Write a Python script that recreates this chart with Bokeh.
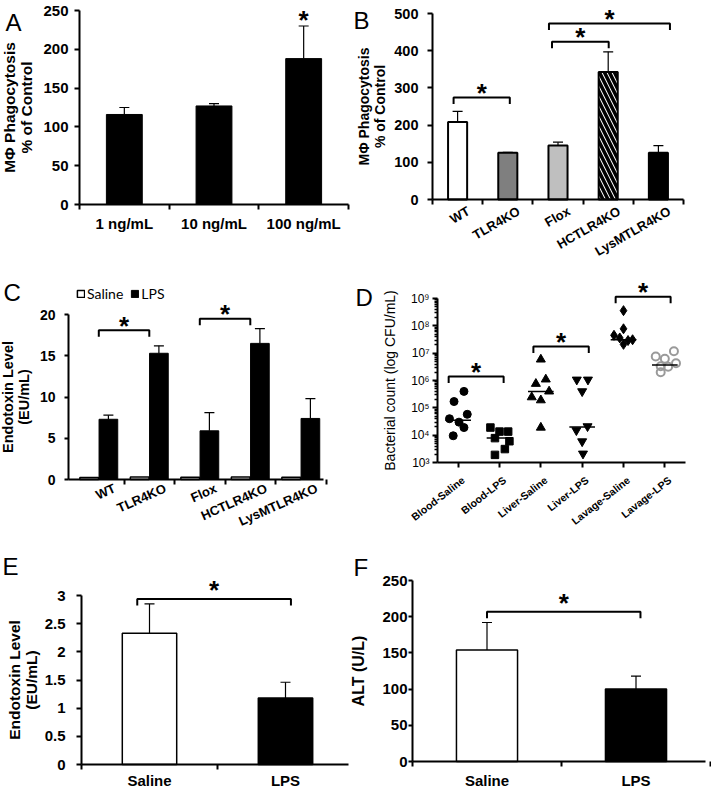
import math
from bokeh.plotting import figure
from bokeh.layouts import row, column
from bokeh.models import (ColumnDataSource, Whisker, TeeHead, FixedTicker, Range1d,
                          Label, LabelSet, Legend, LegendItem)
from bokeh.core.properties import value
from bokeh.embed import file_html
from bokeh.resources import INLINE

FONT = "Liberation Sans"

# ---------------- data ----------------
a_categories = ["1 ng/mL", "10 ng/mL", "100 ng/mL"]
a_means = [116, 127, 188]
a_upper = [125, 130, 230]
a_y_ticks = [0, 50, 100, 150, 200, 250]
a_star_idx = [2]

b_categories = ["WT", "TLR4KO", "Flox", "HCTLR4KO", "LysMTLR4KO"]
b_means = [208, 126, 145, 343, 126]
b_upper = [237, 127, 154, 397, 145]
b_y_ticks = [0, 100, 200, 300, 400, 500]
b_bracket_from = [0.42, 2.38, 2.32]
b_bracket_to = [1.54, 3.51, 4.73]
b_bracket_height = [274, 424, 473]

c_categories = ["WT", "TLR4KO", "Flox", "HCTLR4KO", "LysMTLR4KO"]
c_saline = [0.25, 0.3, 0.28, 0.3, 0.28]
c_lps = [7.3, 15.3, 5.9, 16.5, 7.4]
c_lps_upper = [7.8, 16.2, 8.1, 18.3, 9.8]
c_y_ticks = [0, 5, 10, 15, 20]
c_bracket_from = [0.5, 2.5]
c_bracket_to = [1.5, 3.5]
c_bracket_height = [18.1, 19.5]

d_categories = ["Blood-Saline", "Blood-LPS", "Liver-Saline", "Liver-LPS",
                "Lavage-Saline", "Lavage-LPS"]
d_values = [
    [4.0e5, 1.7e5, 5.8e4, 4.0e4, 3.0e4, 1.9e4, 9.5e3],
    [1.9e4, 1.35e4, 1.35e4, 7.8e3, 6.0e3, 3.1e3, 1.9e3],
    [5.9e6, 1.1e6, 7.6e5, 4.0e5, 2.45e5, 1.9e5, 1.9e4],
    [1.07e6, 1.07e6, 4.0e5, 2.1e4, 1.5e4, 5.9e3, 2.1e3],
    [3.6e8, 7.8e7, 4.5e7, 3.6e7, 3.1e7, 2.9e7, 2.1e7],
    [1.17e7, 7.6e6, 6.2e6, 4.3e6, 3.3e6, 3.2e6, 2.0e6],
]
d_jitter = [
    [0.14, -0.10, 0.22, -0.21, 0.02, 0.14, -0.12],
    [-0.22, 0.0, 0.21, -0.11, 0.24, 0.13, -0.11],
    [0.0, 0.12, -0.12, 0.20, -0.22, 0.0, 0.0],
    [-0.13, 0.14, 0.0, 0.13, -0.14, 0.0, 0.02],
    [0.0, 0.0, -0.23, -0.09, 0.22, 0.11, 0.0],
    [0.22, -0.22, 0.0, 0.27, -0.10, 0.08, -0.10],
]
d_medians = [3.5e4, 7.8e3, 4.0e5, 2.0e4, 3.1e7, 3.7e6]
d_y_ticks = [1e3, 1e4, 1e5, 1e6, 1e7, 1e8, 1e9]
d_y_labels = ["10³", "10⁴", "10⁵", "10⁶", "10⁷", "10⁸", "10⁹"]
d_bracket_from = [0.27, 2.32, 4.31]
d_bracket_to = [1.60, 3.66, 5.64]
d_bracket_height = [1.4e6, 1.74e7, 1.17e9]

e_categories = ["Saline", "LPS"]
e_means = [2.33, 1.18]
e_upper = [2.85, 1.46]
e_y_ticks = [0, 0.5, 1, 1.5, 2, 2.5, 3]
e_y_labels = ["0", "0.5", "1", "1.5", "2", "2.5", "3"]
e_bracket_from = [0.41]
e_bracket_to = [1.54]
e_bracket_height = [2.94]

f_categories = ["Saline", "LPS"]
f_means = [154, 100]
f_upper = [192, 118]
f_y_ticks = [0, 50, 100, 150, 200, 250]
f_bracket_from = [0.50]
f_bracket_to = [1.53]
f_bracket_height = [207]

# ---------------- styles ----------------
B_FILLS = ["white", "#7f7f7f", "#bfbfbf", "white", "black"]
B_HATCH = [" ", " ", " ", "\\", " "]
D_MARKERS = ["circle", "square", "triangle", "inverted_triangle", "diamond", "circle"]
D_SIZES = [8, 7.5, 9, 9, 10, 8]
D_FILLS = ["black", "black", "black", "black", "black", None]
D_LINES = ["black", "black", "black", "black", "black", "#9a9a9a"]
D_LW = [1, 1, 1, 1, 1, 2]


# ---------------- helpers ----------------
def geo(W, H, X0, Y0, ppux, ppuy, x_end, y_top, xa=0.0, ya=0.0, log=False):
    """Figure of W x H px, y-axis at px X0 (data xa), x-axis at px Y0 from top (data ya)."""
    xr = (xa - X0 / ppux, xa + (W - X0) / ppux)
    if log:
        la = math.log10(ya)
        yr = (10 ** (la - (H - Y0) / ppuy), 10 ** (la + Y0 / ppuy))
    else:
        yr = (ya - (H - Y0) / ppuy, ya + Y0 / ppuy)
    return dict(W=W, H=H, X0=X0, Y0=Y0, ppux=ppux, ppuy=ppuy, xa=xa, ya=ya,
                log=log, xr=xr, yr=yr, x_end=x_end, y_top=y_top)


def shift(g, x, y, dx, dy):
    xn = x + dx / g["ppux"]
    if g["log"]:
        yn = 10 ** (math.log10(y) + dy / g["ppuy"])
    else:
        yn = y + dy / g["ppuy"]
    return xn, yn


def to_data(g, lx, ly):
    return shift(g, g["xa"], g["ya"], lx - g["X0"], g["Y0"] - ly)


def make_fig(g):
    p = figure(width=g["W"], height=g["H"],
               x_range=Range1d(*g["xr"]), y_range=Range1d(*g["yr"]),
               y_axis_type="log" if g["log"] else "linear",
               output_backend="svg", toolbar_location=None,
               min_border_left=0, min_border_right=0,
               min_border_top=0, min_border_bottom=0)
    try:
        p.frame_align = False
    except Exception:
        pass
    p.xgrid.visible = False
    p.ygrid.visible = False
    p.outline_line_color = None
    p.background_fill_color = "white"
    p.border_fill_color = "white"
    p.xaxis[0].fixed_location = g["ya"]
    p.yaxis[0].fixed_location = g["xa"]
    p.xaxis[0].bounds = (g["xa"], g["x_end"])
    p.yaxis[0].bounds = (g["ya"], g["y_top"])
    return p


def style_axis(ax, size, bold, standoff, tick_out=5):
    ax.axis_line_color = "black"
    ax.axis_line_width = 2
    ax.major_tick_line_color = "black"
    ax.major_tick_line_width = 2
    ax.major_tick_out = tick_out
    ax.major_tick_in = 0
    ax.minor_tick_line_color = "black"
    ax.minor_tick_line_width = 2
    ax.minor_tick_out = tick_out
    ax.minor_tick_in = 0
    ax.major_label_text_font = FONT
    ax.major_label_text_font_size = size
    ax.major_label_text_font_style = "bold" if bold else "normal"
    ax.major_label_text_color = "black"
    ax.major_label_standoff = standoff


def set_title(ax, text, size, bold, standoff, line_height=1.0):
    ax.axis_label = text
    ax.axis_label_text_font = FONT
    ax.axis_label_text_font_size = size
    ax.axis_label_text_font_style = "bold" if bold else "normal"
    ax.axis_label_text_color = "black"
    ax.axis_label_standoff = standoff
    ax.axis_label_text_line_height = line_height


def add_err(p, xs, lows, highs):
    src = ColumnDataSource(dict(base=xs, lower=lows, upper=highs))
    w = Whisker(source=src, base="base", lower="lower", upper="upper",
                line_color="black", line_width=1.2,
                upper_head=TeeHead(size=10, line_color="black", line_width=1.2),
                lower_head=None)
    p.add_layout(w)


def add_stars(p, xs, ys):
    p.text(x=xs, y=ys, text=["*"] * len(xs), text_font=value(FONT),
           text_font_size="26px", text_font_style="bold", text_align="center",
           text_baseline="middle", text_color="black")


def add_brackets(p, g, x0s, x1s, hs, star_px, drop_px=6.5):
    xs, ys, sx, sy = [], [], [], []
    for a, b, h in zip(x0s, x1s, hs):
        _, hd = shift(g, a, h, 0, -drop_px)
        _, st = shift(g, a, h, 0, star_px)
        xs.append([a, a, b, b])
        ys.append([hd, h, h, hd])
        sx.append((a + b) / 2)
        sy.append(st)
    p.multi_line(xs, ys, line_color="black", line_width=2)
    add_stars(p, sx, sy)


def add_rot_labels(p, g, centers, texts, angle_deg, size, dx, dy):
    xs, ys = [], []
    for c in centers:
        x, y = shift(g, c, g["ya"], dx, -dy)
        xs.append(x)
        ys.append(y)
    src = ColumnDataSource(dict(x=xs, y=ys, t=texts))
    p.add_layout(LabelSet(x="x", y="y", text="t", source=src,
                          angle=math.radians(angle_deg), text_align="right",
                          text_baseline="middle", text_font=value(FONT),
                          text_font_size=size, text_font_style="bold",
                          text_color="black"))


def add_letter(p, g, letter, lx, ly):
    x, y = to_data(g, lx, ly)
    p.add_layout(Label(x=x, y=y, text=letter, text_font=FONT, text_font_size="24px",
                       text_align="left", text_baseline="alphabetic", text_color="black"))


# ---------------- Panel A ----------------
gA = geo(350, 260, 79, 204, 269 / 3, 194 / 250, 3, 250)
pA = make_fig(gA)
a_x = [i + 0.5 for i in range(len(a_categories))]
pA.vbar(x=a_x, top=a_means, width=0.4, fill_color="black", line_color="black")
add_err(pA, a_x, a_means, a_upper)
ax = pA.xaxis[0]
style_axis(ax, "15px", True, 5)
ax.ticker = FixedTicker(ticks=a_x, minor_ticks=list(range(len(a_categories) + 1)))
ax.major_tick_line_color = None
ax.major_label_overrides = {x: c for x, c in zip(a_x, a_categories)}
ay = pA.yaxis[0]
style_axis(ay, "15px", True, 6)
ay.ticker = FixedTicker(ticks=a_y_ticks)
set_title(ay, "MΦ Phagocytosis\n% of Control", "15.5px", True, 5)
sx, sy = [], []
for i in a_star_idx:
    sx.append(a_x[i])
    sy.append(shift(gA, a_x[i], a_upper[i], 0, 6.3)[1])
add_stars(pA, sx, sy)
add_letter(pA, gA, "A", 5, 22)

# ---------------- Panel B ----------------
gB = geo(361, 260, 82, 199, 251 / 5, 186 / 500, 5, 500)
pB = make_fig(gB)
b_x = [i + 0.5 for i in range(len(b_categories))]
srcB = ColumnDataSource(dict(x=b_x, top=b_means, color=B_FILLS, hatch=B_HATCH))
pB.vbar(x="x", top="top", width=0.38, source=srcB, fill_color="color",
        line_color="black", line_width=2, hatch_pattern="hatch",
        hatch_color="black", hatch_weight=3.5, hatch_scale=10)
add_err(pB, b_x, b_means, b_upper)
bx = pB.xaxis[0]
style_axis(bx, "13px", True, 5)
bx.ticker = FixedTicker(ticks=[], minor_ticks=list(range(len(b_categories) + 1)))
add_rot_labels(pB, gB, b_x, b_categories, 30, "13px", 11, 10.5)
by = pB.yaxis[0]
style_axis(by, "14.5px", True, 9)
by.ticker = FixedTicker(ticks=b_y_ticks)
set_title(by, "MΦ Phagocytosis\n% of Control", "14px", True, 3)
add_brackets(pB, gB, b_bracket_from, b_bracket_to, b_bracket_height, 4.5)
add_letter(pB, gB, "B", 3, 20)

# ---------------- Panel C ----------------
gC = geo(350, 270, 68, 219, 50.5, 165 / 20, 4.95, 20, xa=-0.1)
pC = make_fig(gC)
c_center = [i + 0.5 for i in range(len(c_categories))]
c_sx = [c - 0.19 for c in c_center]
c_lx = [c + 0.19 for c in c_center]
r_sal = pC.vbar(x=c_sx, top=c_saline, width=0.37, fill_color="white",
                line_color="black", line_width=1.5)
r_lps = pC.vbar(x=c_lx, top=c_lps, width=0.37, fill_color="black",
                line_color="black", line_width=1)
add_err(pC, c_lx, c_lps, c_lps_upper)
cx = pC.xaxis[0]
style_axis(cx, "13px", True, 5)
cx.ticker = FixedTicker(ticks=[], minor_ticks=list(range(1, len(c_categories) + 1)))
add_rot_labels(pC, gC, c_center, c_categories, 24, "13px", 16, 8)
cy = pC.yaxis[0]
style_axis(cy, "14px", True, 9, tick_out=4)
cy.ticker = FixedTicker(ticks=c_y_ticks)
set_title(cy, "Endotoxin Level\n(EU/mL)", "14.5px", True, 5, 1.0)
add_brackets(pC, gC, c_bracket_from, c_bracket_to, c_bracket_height, 4.5)
legC = Legend(items=[LegendItem(label="Saline", renderers=[r_sal]),
                     LegendItem(label="LPS", renderers=[r_lps])],
              location=(76, 228), orientation="horizontal", glyph_width=9,
              glyph_height=9, label_standoff=2, spacing=7, padding=0, margin=0,
              border_line_color=None, background_fill_alpha=0,
              label_text_font="Lato", label_text_font_size="14px",
              label_text_color="black")
pC.add_layout(legC)
add_letter(pC, gC, "C", 3, 32)

# ---------------- Panel D ----------------
gD = geo(361, 270, 87, 202, 248 / 6, 164 / 6, 6, 1e9, ya=1e3, log=True)
pD = make_fig(gD)
d_center = [i + 0.5 for i in range(len(d_categories))]
for i, (vals, jit) in enumerate(zip(d_values, d_jitter)):
    xs = [d_center[i] + j for j in jit]
    pD.scatter(xs, vals, marker=D_MARKERS[i], size=D_SIZES[i],
               fill_color=D_FILLS[i], line_color=D_LINES[i], line_width=D_LW[i])
pD.segment(x0=[c - 0.31 for c in d_center], x1=[c + 0.31 for c in d_center],
           y0=d_medians, y1=d_medians, line_color="black", line_width=1.5)
dx_ = pD.xaxis[0]
style_axis(dx_, "11px", True, 5)
dx_.ticker = FixedTicker(ticks=[], minor_ticks=d_center)
add_rot_labels(pD, gD, d_center, d_categories, 38, "10.5px", 5, 16)
dy_ = pD.yaxis[0]
style_axis(dy_, "12px", False, 3, tick_out=5)
dy_.minor_tick_out = 3
dy_.minor_tick_line_width = 1.5
dy_.ticker = FixedTicker(ticks=d_y_ticks,
                         minor_ticks=[m * 10 ** e for e in range(3, 9) for m in range(2, 10)])
dy_.major_label_overrides = {int(t): l for t, l in zip(d_y_ticks, d_y_labels)}
set_title(dy_, "Bacterial count (log CFU/mL)", "14px", False, 10)
add_brackets(pD, gD, d_bracket_from, d_bracket_to, d_bracket_height, 4.8)
add_letter(pD, gD, "D", 5, 37)

# ---------------- Panel E ----------------
gE = geo(350, 260, 81, 234, 136, 169 / 3, 267 / 136, 3)
pE = make_fig(gE)
e_x = [i + 0.5 for i in range(len(e_categories))]
pE.vbar(x=e_x, top=e_means, width=0.4, fill_color=["white", "black"],
        line_color="black", line_width=1.5)
add_err(pE, e_x, e_means, e_upper)
ex = pE.xaxis[0]
style_axis(ex, "15px", True, 2)
ex.ticker = FixedTicker(ticks=e_x, minor_ticks=list(range(len(e_categories) + 1)))
ex.major_tick_line_color = None
ex.major_label_overrides = {x: c for x, c in zip(e_x, e_categories)}
ey = pE.yaxis[0]
style_axis(ey, "15px", True, 11)
ey.ticker = FixedTicker(ticks=e_y_ticks)
ey.major_label_overrides = {t: l for t, l in zip(e_y_ticks, e_y_labels)}
set_title(ey, "Endotoxin Level\n(EU/mL)", "15.5px", True, 2)
add_brackets(pE, gE, e_bracket_from, e_bracket_to, e_bracket_height, 9)
add_letter(pE, gE, "E", 2, 36)

# ---------------- Panel F ----------------
gF = geo(361, 260, 62, 231, 149, 181 / 250, 293 / 149, 250)
pF = make_fig(gF)
f_x = [i + 0.5 for i in range(len(f_categories))]
pF.vbar(x=f_x, top=f_means, width=0.41, fill_color=["white", "black"],
        line_color="black", line_width=1.5)
add_err(pF, f_x, f_means, f_upper)
fx = pF.xaxis[0]
style_axis(fx, "15px", True, 5)
fx.ticker = FixedTicker(ticks=f_x, minor_ticks=list(range(len(f_categories) + 1)))
fx.major_tick_line_color = None
fx.major_label_overrides = {x: c for x, c in zip(f_x, f_categories)}
fy = pF.yaxis[0]
style_axis(fy, "15px", True, 1, tick_out=4)
fy.ticker = FixedTicker(ticks=f_y_ticks)
set_title(fy, "ALT (U/L)", "16px", True, 12)
add_brackets(pF, gF, f_bracket_from, f_bracket_to, f_bracket_height, 8.5)
add_letter(pF, gF, "F", 3, 37)

layout = column(row(pA, pB), row(pC, pD), row(pE, pF))
open("out.html", "w").write(file_html(layout, INLINE))
